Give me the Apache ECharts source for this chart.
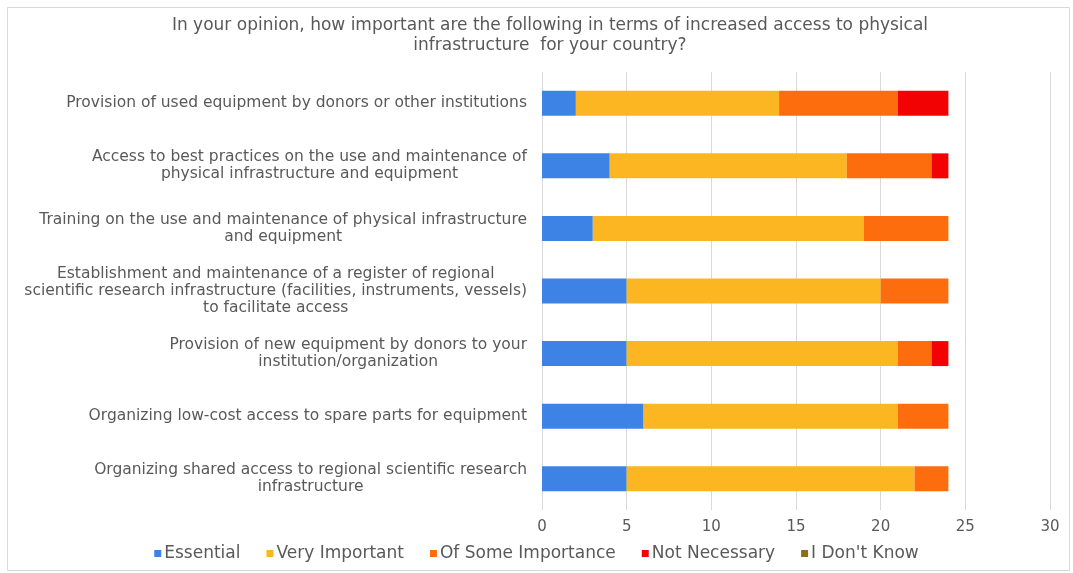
<!DOCTYPE html>
<html>
<head>
<meta charset="utf-8">
<script src="https://cdn.jsdelivr.net/npm/echarts@6/dist/echarts.min.js"></script>
<style>
  html, body { margin: 0; padding: 0; background: #ffffff; }
  #chart { width: 1073px; height: 573px; }
</style>
</head>
<body>
<div id="chart"></div>
<script>
// Survey items, top to bottom
const categories = [
  "Provision of used equipment by donors or other institutions",
  "Access to best practices on the use and maintenance of\nphysical infrastructure and equipment",
  "Training on the use and maintenance of physical infrastructure\nand equipment",
  "Establishment and maintenance of a register of regional\nscientific research infrastructure (facilities, instruments, vessels)\nto facilitate access",
  "Provision of new equipment by donors to your\ninstitution/organization",
  "Organizing low-cost access to spare parts for equipment",
  "Organizing shared access to regional scientific research\ninfrastructure"
];

// Response counts per item
const essential        = [2, 4, 3, 5, 5, 6, 5];
const veryImportant    = [12, 14, 16, 15, 16, 15, 17];
const ofSomeImportance = [7, 5, 5, 4, 2, 3, 2];
const notNecessary     = [3, 1, 0, 0, 1, 0, 0];
const dontKnow         = [0, 0, 0, 0, 0, 0, 0];

const seriesNames = ["Essential", "Very Important", "Of Some Importance", "Not Necessary", "I Don't Know"];
const seriesData = [essential, veryImportant, ofSomeImportance, notNecessary, dontKnow];
const seriesColors = ["#3d83e6", "#fbb622", "#fd6d0d", "#f20202", "#8c6d17"];

const xTicks = { min: 0, max: 30, interval: 5 };

const chart = echarts.init(document.getElementById('chart'), null, { renderer: 'canvas' });

const FONT = "'DejaVu Sans', 'Liberation Sans', sans-serif";

const option = {
  backgroundColor: '#ffffff',
  animation: false,
  title: {
    text: "In your opinion, how important are the following in terms of increased access to physical\ninfrastructure  for your country?",
    left: 545,
    textAlign: 'center',
    top: 11,
    textStyle: {
      fontFamily: FONT,
      fontSize: 17,
      fontWeight: 'normal',
      color: '#595959',
      lineHeight: 20
    }
  },
  graphic: [{
    type: 'rect',
    left: 5,
    top: 5,
    shape: { width: 1062, height: 563 },
    style: { fill: 'none', stroke: '#d9d9d9', lineWidth: 1 },
    silent: true,
    z: -1
  }],
  legend: {
    data: seriesNames,
    bottom: 6,
    left: 'center',
    icon: 'rect',
    itemWidth: 7,
    itemHeight: 7,
    itemGap: 26,
    textStyle: {
      fontFamily: FONT,
      fontSize: 17,
      color: '#595959',
      padding: [0, 0, 0, -2]
    }
  },
  grid: {
    left: 542,
    right: 23,
    top: 72,
    bottom: 63,
    containLabel: false
  },
  xAxis: {
    type: 'value',
    min: xTicks.min,
    max: xTicks.max,
    interval: xTicks.interval,
    axisLine: { show: false },
    axisTick: { show: false },
    splitLine: { show: true, lineStyle: { color: '#d9d9d9', width: 1 } },
    axisLabel: {
      fontFamily: FONT,
      fontSize: 15,
      color: '#595959',
      margin: 10
    }
  },
  yAxis: {
    type: 'category',
    inverse: true,
    data: categories,
    axisLine: { show: false },
    axisTick: { show: false },
    axisLabel: {
      margin: 15,
      align: 'right',
      fontFamily: FONT,
      fontSize: 15.5,
      color: '#595959',
      lineHeight: 17,
      formatter: function (v) {
        return v.split('\n').map(function (s) { return '{c|' + s + '}'; }).join('\n');
      },
      rich: {
        c: {
          align: 'center',
          fontFamily: FONT,
          fontSize: 15.5,
          color: '#595959',
          lineHeight: 17
        }
      }
    }
  },
  series: seriesNames.map(function (name, i) {
    return {
      name: name,
      type: 'bar',
      stack: 'total',
      barWidth: 25,
      data: seriesData[i],
      itemStyle: { color: seriesColors[i] }
    };
  })
};

chart.setOption(option);
</script>
</body>
</html>
